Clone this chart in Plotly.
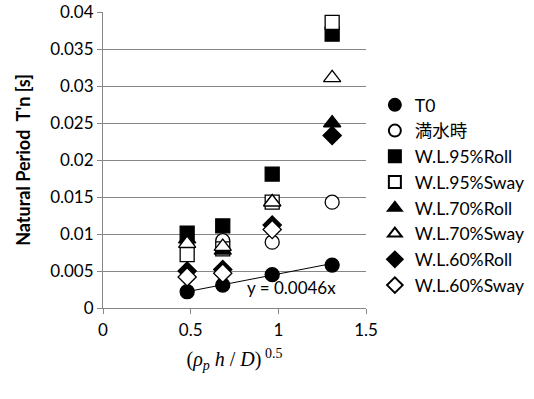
import plotly.graph_objects as go

# ---- data ----
x_vals = [0.48, 0.683, 0.965, 1.307]
series_names = ["T0", "満水時", "W.L.95%Roll", "W.L.95%Sway",
                "W.L.70%Roll", "W.L.70%Sway", "W.L.60%Roll", "W.L.60%Sway"]
t0 = [0.0022, 0.0031, 0.0045, 0.0058]
full_water = [0.0083, 0.0091, 0.0089, 0.0143]
wl95_roll = [0.0101, 0.0111, 0.0181, 0.0370]
wl95_sway = [0.0072, 0.0080, 0.0143, 0.0386]
wl70_roll = [0.0093, 0.0078, 0.0143, 0.0250]
wl70_sway = [0.0087, 0.0083, 0.0143, 0.0311]
wl60_roll = [0.0050, 0.0052, 0.0112, 0.0233]
wl60_sway = [0.0042, 0.0047, 0.0106, None]
trend_slope = 0.0046
trend_label = "y = 0.0046x"
x_ticks = [0, 0.5, 1, 1.5]

series_values = [t0, full_water, wl95_roll, wl95_sway,
                 wl70_roll, wl70_sway, wl60_roll, wl60_sway]
symbols = ["circle", "circle", "square", "square",
           "triangle-up", "triangle-up", "diamond", "diamond"]
filled = [True, False, True, False, True, False, True, False]

font_family = "Lato, 'Noto Sans CJK JP', sans-serif"
axis_gray = "#868686"

fig = go.Figure()

# trendline through origin over the data range
tx = [min(x_vals), max(x_vals)]
fig.add_trace(go.Scatter(x=tx, y=[trend_slope * v for v in tx], mode="lines",
                         line=dict(color="black", width=1), showlegend=False,
                         hoverinfo="skip"))

for name, vals, sym, fil in zip(series_names, series_values, symbols, filled):
    fig.add_trace(go.Scatter(
        x=x_vals, y=vals, mode="markers", name=name,
        marker=dict(symbol=sym, size=14 if sym != "triangle-up" else 15,
                    color="black" if fil else "white",
                    line=dict(color="black", width=1.3)),
    ))

fig.add_annotation(x=1.075, y=0.00272, text=trend_label, showarrow=False,
                   font=dict(family=font_family, size=17, color="black"))

fig.update_layout(
    width=534, height=399,
    margin=dict(l=103, r=168, t=12, b=91, autoexpand=False),
    paper_bgcolor="white", plot_bgcolor="white",
    font=dict(family=font_family, size=17, color="black"),
    legend=dict(xref="container", yref="container",
                x=0.702, y=0.782, xanchor="left", yanchor="top",
                maxheight=330,
                font=dict(family=font_family, size=17.5),
                itemsizing="constant", tracegroupgap=0,
                bgcolor="rgba(0,0,0,0)"),
    xaxis=dict(range=[0, 1.5], tickvals=x_ticks, showgrid=False,
               showline=True, linecolor=axis_gray, linewidth=1,
               ticks="outside", ticklen=5, tickcolor=axis_gray,
               ticklabelstandoff=2, zeroline=False,
               tickfont=dict(family=font_family, size=17),
               title=dict(text="(<i>ρ</i><sub><i>p</i></sub> <i>h</i> / <i>D</i>)<sup> 0.5</sup>",
                          font=dict(family="Liberation Serif, Times New Roman, serif", size=20),
                          standoff=12)),
    yaxis=dict(range=[0, 0.04], dtick=0.005, showgrid=True, gridcolor=axis_gray,
               gridwidth=1, showline=True, linecolor=axis_gray, linewidth=1,
               ticks="outside", ticklen=5, tickcolor=axis_gray, zeroline=False,
               tickfont=dict(family=font_family, size=17),
               title=dict(text="<b>Natural Period  T'n [s]</b>",
                          font=dict(family=font_family, size=18), standoff=14)),
)

fig.write_html("out.html", config={"displayModeBar": False},
               post_script="document.body.style.margin='0';")
